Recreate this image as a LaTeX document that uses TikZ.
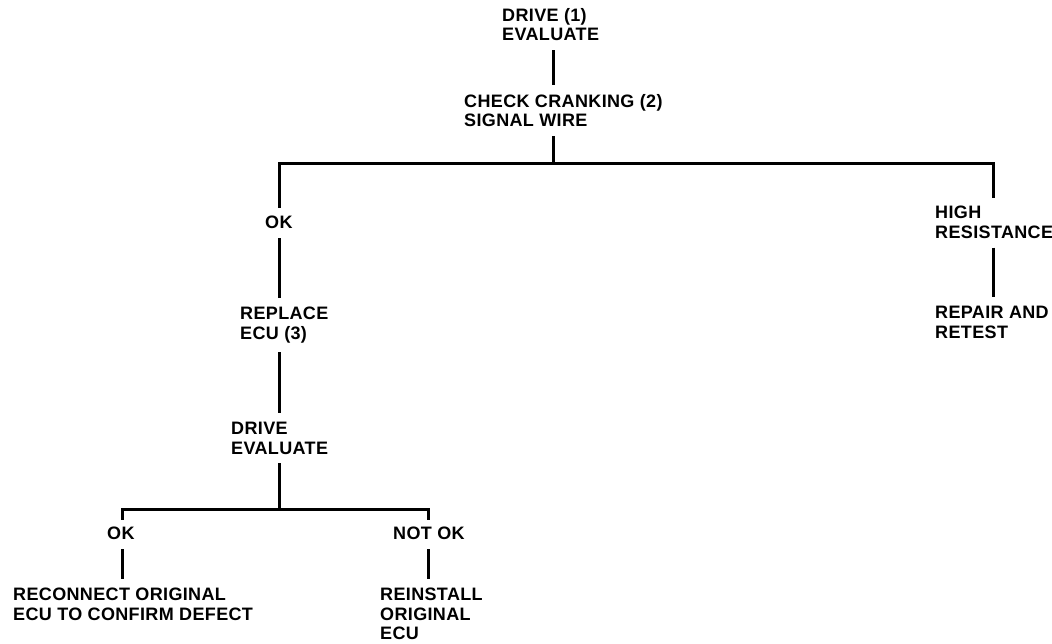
\documentclass[tikz,border=0pt]{standalone}
\usepackage{fontspec}
\setmainfont{Liberation Sans}[LetterSpace=2]
\begin{document}
\begin{tikzpicture}[x=1pt,y=-1pt,
  lbl/.style={anchor=north west,align=left,inner xsep=0pt,inner ysep=9pt,
    font=\bfseries\fontsize{18}{19.5}\selectfont},
  conn/.style={line width=3pt,line cap=butt},
  bar/.style={line width=3pt,line cap=rect}]
\useasboundingbox (0,0) rectangle (1052,644);
% spine x positions
\coordinate (xa) at (553,0);
\coordinate (xb) at (279,0);
\coordinate (xc) at (993,0);
\coordinate (xd) at (122,0);
\coordinate (xe) at (428,0);
% junctions
\coordinate (j1) at (553,164);
\coordinate (jl) at (279,164);
\coordinate (jr) at (993,164);
\coordinate (j2) at (279,509);
\coordinate (jl2) at (122,509);
\coordinate (jr2) at (428,509);
% nodes
\node[lbl] (drive) at (502,-1) {DRIVE (1)\\EVALUATE};
\node[lbl] (check) at (464,85) {CHECK CRANKING (2)\\SIGNAL WIRE};
\node[lbl] (ok1) at (265,207) {OK};
\node[lbl] (replace) at (240,298) {REPLACE\\ECU (3)};
\node[lbl] (drive2) at (231,413) {DRIVE\\EVALUATE};
\node[lbl] (ok2) at (107,518) {OK};
\node[lbl] (notok) at (393,518) {NOT OK};
\node[lbl] (reconnect) at (13,579) {RECONNECT ORIGINAL\\ECU TO CONFIRM DEFECT};
\node[lbl] (reinstall) at (380,579) {REINSTALL\\ORIGINAL\\ECU};
\node[lbl] (high) at (935,197) {HIGH\\RESISTANCE};
\node[lbl] (repair) at (935,297) {REPAIR AND\\RETEST};
% connectors
\draw[conn] (drive.south -| xa) -- (check.north -| xa);
\draw[conn] (check.south -| xa) -- (j1);
\draw[bar] (jr) -- (jl) -- (ok1.north -| xb);
\draw[bar] (jl) -- (jr) -- (high.north -| xc);
\draw[conn] (ok1.south -| xb) -- (replace.north -| xb);
\draw[conn] (replace.south -| xb) -- (drive2.north -| xb);
\draw[conn] (drive2.south -| xb) -- (j2);
\draw[bar] (jr2) -- (jl2) -- (ok2.north -| xd);
\draw[bar] (jl2) -- (jr2) -- (notok.north -| xe);
\draw[conn] (ok2.south -| xd) -- (reconnect.north -| xd);
\draw[conn] (notok.south -| xe) -- (reinstall.north -| xe);
\draw[conn] (high.south -| xc) -- (repair.north -| xc);
\end{tikzpicture}
\end{document}
